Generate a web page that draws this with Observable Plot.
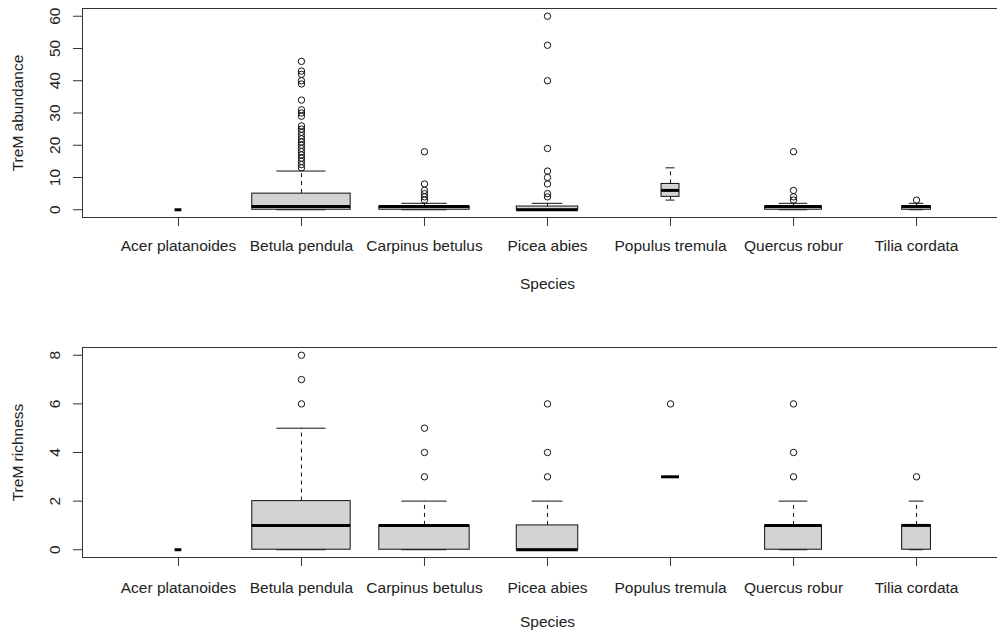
<!DOCTYPE html>
<html><head><meta charset="utf-8">
<script src="https://cdn.jsdelivr.net/npm/d3@7"></script>
<script src="https://cdn.jsdelivr.net/npm/@observablehq/plot@0.6"></script>
<style>body{margin:0;background:#fff} #chart svg{display:block;overflow:hidden}</style>
</head><body><div id="chart"></div>
<script>
// ---- data ----
const species = ["Acer platanoides","Betula pendula","Carpinus betulus","Picea abies","Populus tremula","Quercus robur","Tilia cordata"];
const treeCounts = [1, 210, 177, 82, 7, 70, 18];

// TreM abundance
const abTicks = [0, 10, 20, 30, 40, 50, 60];
const abQ1  = [0, 0, 0, 0, 4, 0, 0];
const abMed = [0, 1, 1, 0, 6, 1, 1];
const abQ3  = [0, 5, 1, 1, 8, 1, 1];
const abLo  = [0, 0, 0, 0, 3, 0, 0];
const abHi  = [0, 12, 2, 2, 13, 2, 2];
const abOut = [
  [],
  [13,14,15,16,17,18,19,20,21,22,23,24,25,26,29,30,31,34,39,40,42,43,46],
  [3,4,5,6,8,18],
  [4,5,8,10,12,19,40,51,60],
  [],
  [3,4,6,18],
  [3]
];

// TreM richness
const riTicks = [0, 2, 4, 6, 8];
const riQ1  = [0, 0, 0, 0, 3, 0, 0];
const riMed = [0, 1, 1, 0, 3, 1, 1];
const riQ3  = [0, 2, 1, 1, 3, 1, 1];
const riLo  = [0, 0, 0, 0, 3, 0, 0];
const riHi  = [0, 5, 2, 2, 3, 2, 2];
const riOut = [[], [6,7,8], [3,4,5], [3,4,6], [6], [3,4,6], [3]];

const FONT = "Liberation Sans, Arial, Helvetica, sans-serif";
const INK = "#111";
const FS = 15.5;

function panel({q1, med, q3, lo, hi, out, ticks, yLabel, height, marginTop, marginBottom, xPad, titleDy}) {
  const n = species.length;
  const maxN = d3.max(treeCounts);
  const rows = species.map((s, k) => ({
    i: k + 1, w: 0.8 * Math.sqrt(treeCounts[k] / maxN),
    q1: q1[k], med: med[k], q3: q3[k], lo: lo[k], hi: hi[k]
  }));
  const pts = out.flatMap((arr, k) => arr.map(v => ({i: k + 1, v})));
  const vals = rows.flatMap(r => [r.lo, r.hi]).concat(pts.map(p => p.v));
  const ymin = d3.min(vals), ymax = d3.max(vals);
  const yd = [ymin - 0.04 * (ymax - ymin), ymax + 0.04 * (ymax - ymin)];
  const xd = [0.5 - 0.04 * n, n + 0.5 + 0.04 * n];
  const mid = (1 + n) / 2;

  return Plot.plot({
    width: 997, height, marginLeft: 82, marginRight: 0, marginTop, marginBottom,
    style: {fontFamily: FONT, fontSize: FS + "px", color: "#222", background: "#fff"},
    x: {type: "linear", domain: xd, range: [82, 1012]},
    y: {domain: yd},
    marks: [
      // whiskers (dashed)
      Plot.ruleX(rows, {x: "i", y1: "q3", y2: "hi", stroke: INK, strokeDasharray: "4,4"}),
      Plot.ruleX(rows, {x: "i", y1: "lo", y2: "q1", stroke: INK, strokeDasharray: "4,4"}),
      // staples
      Plot.ruleY(rows, {y: "hi", x1: d => d.i - d.w / 4, x2: d => d.i + d.w / 4, stroke: INK}),
      Plot.ruleY(rows, {y: "lo", x1: d => d.i - d.w / 4, x2: d => d.i + d.w / 4, stroke: INK}),
      // boxes
      Plot.rect(rows, {x1: d => d.i - d.w / 2, x2: d => d.i + d.w / 2, y1: "q1", y2: "q3",
        fill: "#d3d3d3", stroke: INK, strokeWidth: 1}),
      // medians
      Plot.ruleY(rows, {y: "med", x1: d => d.i - d.w / 2, x2: d => d.i + d.w / 2, stroke: "#000", strokeWidth: 3}),
      // outliers
      Plot.dot(pts, {x: "i", y: "v", r: 3.2, stroke: INK, fill: "none", strokeWidth: 1}),
      // frame (top, bottom, left)
      Plot.ruleY(yd, {stroke: "#333"}),
      Plot.ruleX([xd[0]], {stroke: "#333"}),
      // axes
      Plot.axisX({ticks: d3.range(1, n + 1), tickFormat: i => species[i - 1], tickSize: 9, tickPadding: xPad, label: null, stroke: "#333"}),
      Plot.axisY({ticks, tickRotate: -90, tickSize: 9, tickPadding: 14, label: null, stroke: "#333"}),
      // axis titles
      Plot.text([yLabel], {frameAnchor: "left", dx: -64, rotate: -90, textAnchor: "middle", fontSize: FS, fill: "#222"}),
      Plot.text([mid], {x: d => d, text: () => "Species", frameAnchor: "bottom", dy: titleDy, fontSize: FS, fill: "#222"})
    ]
  });
}

const chart = document.getElementById("chart");
chart.append(panel({q1: abQ1, med: abMed, q3: abQ3, lo: abLo, hi: abHi, out: abOut,
  ticks: abTicks, yLabel: "TreM abundance", height: 339, marginTop: 8, marginBottom: 122, xPad: 13, titleDy: 71}));
chart.append(panel({q1: riQ1, med: riMed, q3: riQ3, lo: riLo, hi: riHi, out: riOut,
  ticks: riTicks, yLabel: "TreM richness", height: 294, marginTop: 8, marginBottom: 76, xPad: 15, titleDy: 69}));
</script>
</body></html>
